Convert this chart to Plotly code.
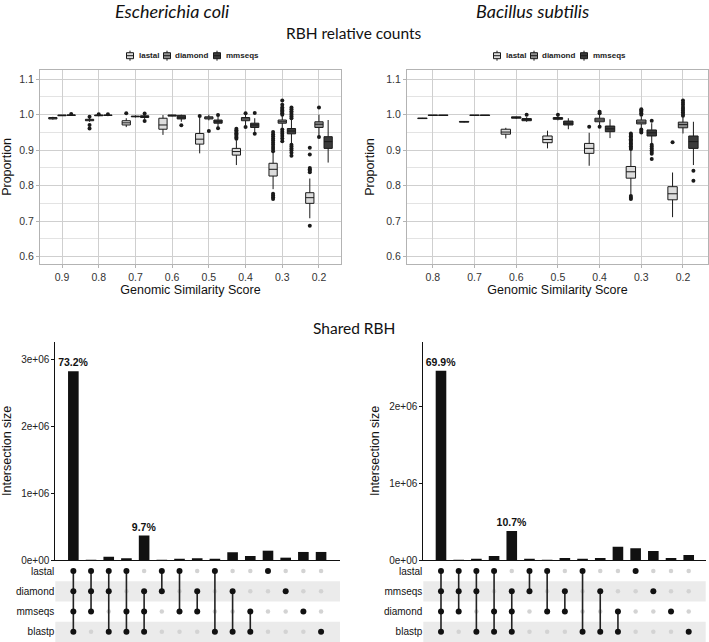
import plotly.graph_objects as go

W, H = 709, 642

# ---------------- data ----------------
tools = ["lastal", "diamond", "mmseqs"]
tool_colors = ["#dcdcdc", "#8f8f8f", "#3b3b3b"]

ecoli_scores = ["0.9", "0.8", "0.7", "0.6", "0.5", "0.4", "0.3", "0.2"]
bsub_scores = ["0.8", "0.7", "0.6", "0.5", "0.4", "0.3", "0.2"]

# box stats per score: [lower whisker, q1, median, q3, upper whisker]
ecoli_lastal_stats = [
    [0.986, 0.988, 0.990, 0.992, 0.994], [0.980, 0.983, 0.985, 0.987, 0.991],
    [0.965, 0.971, 0.977, 0.983, 0.990], [0.943, 0.959, 0.971, 0.990, 0.999],
    [0.891, 0.917, 0.931, 0.947, 0.993], [0.858, 0.886, 0.896, 0.905, 0.928],
    [0.790, 0.827, 0.846, 0.863, 0.892], [0.708, 0.750, 0.766, 0.780, 0.820]]
ecoli_lastal_out = [
    [], [0.994, 0.971, 0.961], [1.004], [], [0.996],
    [0.932, 0.936, 0.940, 0.944, 0.948, 0.952, 0.956, 0.960],
    [0.897, 0.903, 0.909, 0.915, 0.921, 0.927, 0.933, 0.939, 0.945, 0.951,
     0.777, 0.772, 0.767, 0.762],
    [0.907, 0.888, 0.850, 0.846, 0.842, 0.838, 0.687]]

ecoli_diamond_stats = [
    [0.997, 0.997, 0.998, 0.999, 0.999], [0.996, 0.997, 0.998, 0.999, 0.999],
    [0.992, 0.994, 0.995, 0.996, 0.998], [0.995, 0.996, 0.998, 0.999, 1.000],
    [0.984, 0.988, 0.991, 0.994, 1.000], [0.970, 0.983, 0.988, 0.992, 1.000],
    [0.963, 0.976, 0.980, 0.985, 0.996], [0.940, 0.964, 0.973, 0.980, 1.000]]
ecoli_diamond_out = [
    [], [1.001], [], [], [0.954], [1.004, 0.965],
    [1.000, 1.004, 1.008, 1.012, 1.016, 1.020, 1.028, 1.040,
     0.958, 0.952, 0.946, 0.940, 0.933, 0.925],
    [1.020, 0.937]]

ecoli_mmseqs_stats = [
    [0.998, 0.998, 0.999, 0.999, 1.000], [0.997, 0.998, 0.998, 0.999, 1.000],
    [0.988, 0.992, 0.995, 0.997, 1.000], [0.980, 0.988, 0.993, 0.998, 1.000],
    [0.965, 0.976, 0.980, 0.985, 0.995], [0.950, 0.964, 0.971, 0.976, 0.990],
    [0.920, 0.946, 0.954, 0.961, 0.985], [0.865, 0.905, 0.924, 0.938, 0.985]]
ecoli_mmseqs_out = [
    [1.002], [1.001], [1.003, 0.982], [0.970], [0.999, 0.962], [1.005, 0.946],
    [0.990, 0.995, 1.000, 1.005, 1.010, 1.015, 1.020,
     0.915, 0.910, 0.905, 0.900, 0.893, 0.884],
    []]

bsub_lastal_stats = [
    [0.989, 0.989, 0.990, 0.990, 0.991], [0.978, 0.979, 0.980, 0.981, 0.982],
    [0.933, 0.945, 0.951, 0.959, 0.963], [0.905, 0.921, 0.930, 0.940, 0.955],
    [0.856, 0.891, 0.905, 0.919, 0.949], [0.774, 0.821, 0.839, 0.854, 0.899],
    [0.711, 0.760, 0.777, 0.797, 0.837]]
bsub_lastal_out = [
    [], [], [], [], [0.966],
    [0.903, 0.907, 0.911, 0.915, 0.919, 0.923, 0.927, 0.931, 0.935, 0.939,
     0.943, 0.947, 0.771, 0.766, 0.762],
    [0.922]]

bsub_diamond_stats = [
    [0.997, 0.998, 0.998, 0.999, 0.999], [0.997, 0.998, 0.998, 0.999, 0.999],
    [0.988, 0.990, 0.992, 0.994, 0.995], [0.984, 0.987, 0.989, 0.992, 0.996],
    [0.970, 0.980, 0.985, 0.990, 1.000], [0.960, 0.974, 0.979, 0.985, 0.995],
    [0.947, 0.963, 0.972, 0.979, 0.993]]
bsub_diamond_out = [
    [], [], [], [1.000], [1.004, 1.008, 0.966],
    [1.000, 1.004, 1.008, 1.012, 1.015, 0.958, 0.954, 0.950],
    [0.997, 1.002, 1.007, 1.012, 1.017, 1.022, 1.028, 1.034, 1.040]]

bsub_mmseqs_stats = [
    [0.997, 0.998, 0.998, 0.999, 0.999], [0.997, 0.998, 0.998, 0.999, 0.999],
    [0.980, 0.983, 0.986, 0.989, 0.993], [0.959, 0.971, 0.976, 0.982, 0.990],
    [0.934, 0.952, 0.960, 0.968, 0.987], [0.919, 0.940, 0.949, 0.957, 0.976],
    [0.858, 0.905, 0.924, 0.940, 0.980]]
bsub_mmseqs_out = [
    [], [], [1.000], [], [],
    [0.983, 0.915, 0.910, 0.905, 0.900, 0.895, 0.890, 0.875],
    [0.842, 0.814]]

# UpSet data
ecoli_set_rows = ["lastal", "diamond", "mmseqs", "blastp"]
ecoli_intersections = [
    ["lastal", "diamond", "mmseqs", "blastp"], ["lastal", "diamond", "mmseqs"],
    ["lastal", "diamond", "blastp"], ["lastal", "mmseqs", "blastp"],
    ["diamond", "mmseqs", "blastp"], ["lastal", "diamond"], ["lastal", "mmseqs"],
    ["diamond", "mmseqs"], ["lastal", "blastp"], ["diamond", "blastp"],
    ["mmseqs", "blastp"], ["lastal"], ["diamond"], ["mmseqs"], ["blastp"]]
ecoli_sizes = [2820000, 2000, 49000, 25000, 365000, 1000, 15000, 25000, 20000,
               115000, 60000, 139000, 35000, 120000, 120000]
ecoli_pct_labels = ["73.2%", "", "", "", "9.7%", "", "", "", "", "", "", "", "", "", ""]

bsub_set_rows = ["lastal", "mmseqs", "diamond", "blastp"]
bsub_intersections = [
    ["lastal", "mmseqs", "diamond", "blastp"], ["lastal", "mmseqs", "diamond"],
    ["lastal", "mmseqs", "blastp"], ["lastal", "diamond", "blastp"],
    ["mmseqs", "diamond", "blastp"], ["lastal", "mmseqs"], ["lastal", "diamond"],
    ["mmseqs", "diamond"], ["lastal", "blastp"], ["mmseqs", "blastp"],
    ["diamond", "blastp"], ["lastal"], ["mmseqs"], ["diamond"], ["blastp"]]
bsub_sizes = [2470000, 2000, 8000, 52000, 379000, 17000, 2000, 26000, 17000,
              26000, 174000, 152000, 118000, 26000, 65000]
bsub_pct_labels = ["69.9%", "", "", "", "10.7%", "", "", "", "", "", "", "", "", "", ""]

species = ["Escherichia coli", "Bacillus subtilis"]

# ---------------- helpers ----------------
def fx(px):
    return px / W

def fy(py):
    return 1 - py / H

SANS = "Liberation Sans"
TITLE_FONT = "Lato"

fig = go.Figure()
annotations = []
shapes = []

# ---------------- top: box plots ----------------
box_panels = [
    dict(ax="x", ay="y", scores=ecoli_scores,
         stats=[ecoli_lastal_stats, ecoli_diamond_stats, ecoli_mmseqs_stats],
         outs=[ecoli_lastal_out, ecoli_diamond_out, ecoli_mmseqs_out],
         dom=[40, 341], rng=[-0.6, 7.6]),
    dict(ax="x2", ay="y2", scores=bsub_scores,
         stats=[bsub_lastal_stats, bsub_diamond_stats, bsub_mmseqs_stats],
         outs=[bsub_lastal_out, bsub_diamond_out, bsub_mmseqs_out],
         dom=[407, 708], rng=[-0.62, 6.6]),
]
dodge = 0.25
for p in box_panels:
    n = len(p["scores"])
    for k, tool in enumerate(tools):
        off = (k - 1) * dodge
        st = p["stats"][k]
        xs = [i + off for i in range(n)]
        fig.add_trace(go.Box(
            x=xs,
            lowerfence=[s[0] for s in st], q1=[s[1] for s in st],
            median=[s[2] for s in st], q3=[s[3] for s in st],
            upperfence=[s[4] for s in st],
            width=dodge * 0.9, whiskerwidth=0,
            fillcolor=tool_colors[k], line=dict(color="#1a1a1a", width=1),
            name=tool, showlegend=False, xaxis=p["ax"], yaxis=p["ay"],
            hoverinfo="skip"))
        ox, oy = [], []
        for i, vals in enumerate(p["outs"][k]):
            for v in vals:
                ox.append(i + off)
                oy.append(v)
        fig.add_trace(go.Scatter(
            x=ox, y=oy, mode="markers",
            marker=dict(size=4, color="#1a1a1a"),
            showlegend=False, xaxis=p["ax"], yaxis=p["ay"], hoverinfo="skip"))

axis_common_top_x = dict(
    showgrid=True, gridcolor="#cfcfcf", gridwidth=1, zeroline=False,
    showline=True, mirror=True, linecolor="#b3b3b3", linewidth=1,
    ticks="outside", ticklen=3, tickcolor="#b3b3b3",
    tickfont=dict(family=SANS, size=10.5, color="#333333"),
    title=dict(text="Genomic Similarity Score", standoff=2,
               font=dict(family=SANS, size=12.5, color="#111111")),
    automargin=False)
axis_common_top_y = dict(
    range=[0.579, 1.126], tickvals=[0.6, 0.7, 0.8, 0.9, 1.0, 1.1],
    ticktext=["0.6", "0.7", "0.8", "0.9", "1.0", "1.1"],
    showgrid=True, gridcolor="#cfcfcf", gridwidth=1, zeroline=False,
    minor=dict(tickvals=[0.65, 0.75, 0.85, 0.95, 1.05], showgrid=True,
               gridcolor="#e3e3e3", ticks=""),
    showline=True, mirror=True, linecolor="#b3b3b3", linewidth=1,
    ticks="outside", ticklen=3, tickcolor="#b3b3b3",
    tickfont=dict(family=SANS, size=10.5, color="#333333"),
    title=dict(text="Proportion", standoff=8,
               font=dict(family=SANS, size=12.5, color="#111111")),
    automargin=False)

layout_axes = {}
for idx, p in enumerate(box_panels):
    xname = "xaxis" if idx == 0 else "xaxis2"
    yname = "yaxis" if idx == 0 else "yaxis2"
    n = len(p["scores"])
    layout_axes[xname] = dict(axis_common_top_x, domain=[fx(p["dom"][0]), fx(p["dom"][1])],
                              range=p["rng"], tickvals=list(range(n)), ticktext=p["scores"],
                              anchor=p["ay"])
    layout_axes[yname] = dict(axis_common_top_y, domain=[fy(264), fy(70)], anchor=p["ax"])

# manual legends (ggplot-like keys)
for cx in [190.5, 557.5]:
    icon_dx = [-60.5, -23.5, 26.5]
    text_dx = [-53.5, -17.5, 33.5]
    ly = 55.7
    for k, tool in enumerate(tools):
        ix = cx + icon_dx[k]
        shapes.append(dict(type="line", xref="paper", yref="paper",
                           x0=fx(ix), x1=fx(ix), y0=fy(ly - 5), y1=fy(ly + 5),
                           line=dict(color="#1a1a1a", width=1)))
        shapes.append(dict(type="rect", xref="paper", yref="paper",
                           x0=fx(ix - 3.5), x1=fx(ix + 3.5), y0=fy(ly - 3), y1=fy(ly + 3),
                           fillcolor=tool_colors[k], line=dict(color="#1a1a1a", width=1)))
        shapes.append(dict(type="line", xref="paper", yref="paper",
                           x0=fx(ix - 3.5), x1=fx(ix + 3.5), y0=fy(ly), y1=fy(ly),
                           line=dict(color="#1a1a1a", width=1)))
        annotations.append(dict(text="<b>" + tool + "</b>", xref="paper", yref="paper",
                                x=fx(cx + text_dx[k]), y=fy(ly), xanchor="left",
                                yanchor="middle", showarrow=False,
                                font=dict(family=SANS, size=8, color="#222222")))

# ---------------- bottom: UpSet ----------------
upset_panels = [
    dict(bx="x3", by="y3", mx="x4", my="y4", rows=ecoli_set_rows,
         inter=ecoli_intersections, sizes=ecoli_sizes, labels=ecoli_pct_labels,
         dom=[55.3, 340], xr=[-1.02, 15.07], yr=[0, 3.26e6],
         tv=[0, 1e6, 2e6, 3e6], tt=["0e+00", "1e+06", "2e+06", "3e+06"]),
    dict(bx="x5", by="y5", mx="x6", my="y6", rows=bsub_set_rows,
         inter=bsub_intersections, sizes=bsub_sizes, labels=bsub_pct_labels,
         dom=[423.3, 705.7], xr=[-1.0, 14.96], yr=[0, 2.85e6],
         tv=[0, 1e6, 2e6], tt=["0e+00", "1e+06", "2e+06"]),
]
for p in upset_panels:
    ncol = len(p["sizes"])
    cols = list(range(ncol))
    fig.add_trace(go.Bar(
        x=cols, y=p["sizes"], width=0.6, marker=dict(color="#111111", line=dict(width=0)),
        text=["<b>" + t + "</b>" if t else "" for t in p["labels"]],
        textposition="outside", cliponaxis=False, constraintext="none",
        textfont=dict(family=SANS, size=10.5, color="#111111"),
        showlegend=False, xaxis=p["bx"], yaxis=p["by"], hoverinfo="skip"))
    # background dots
    gx, gy = [], []
    for c in cols:
        for r in range(len(p["rows"])):
            gx.append(c)
            gy.append(r)
    fig.add_trace(go.Scatter(x=gx, y=gy, mode="markers",
                             marker=dict(size=4.5, color="#d3d3d3"),
                             showlegend=False, xaxis=p["mx"], yaxis=p["my"], hoverinfo="skip"))
    # connecting lines
    lx, ly_ = [], []
    for c, members in enumerate(p["inter"]):
        rr = [p["rows"].index(m) for m in members]
        if len(rr) > 1:
            lx += [c, c, None]
            ly_ += [min(rr), max(rr), None]
    fig.add_trace(go.Scatter(x=lx, y=ly_, mode="lines",
                             line=dict(color="#222222", width=1.6),
                             showlegend=False, xaxis=p["mx"], yaxis=p["my"], hoverinfo="skip"))
    ax_, ay_ = [], []
    for c, members in enumerate(p["inter"]):
        for m in members:
            ax_.append(c)
            ay_.append(p["rows"].index(m))
    fig.add_trace(go.Scatter(x=ax_, y=ay_, mode="markers",
                             marker=dict(size=6, color="#111111"),
                             showlegend=False, xaxis=p["mx"], yaxis=p["my"], hoverinfo="skip"))
    # shaded rows
    for r in range(len(p["rows"])):
        if r % 2 == 1:
            shapes.append(dict(type="rect", xref=p["mx"] + " domain", yref=p["my"],
                               x0=0, x1=1, y0=r - 0.5, y1=r + 0.5,
                               fillcolor="#ebebeb", line=dict(width=0), layer="below"))

    xd = [fx(p["dom"][0]), fx(p["dom"][1])]
    bxn = "xaxis" + p["bx"][1:]
    byn = "yaxis" + p["by"][1:]
    mxn = "xaxis" + p["mx"][1:]
    myn = "yaxis" + p["my"][1:]
    layout_axes[bxn] = dict(domain=xd, range=p["xr"], anchor=p["by"], showgrid=False,
                            zeroline=False, showline=True, linecolor="#111111", linewidth=1,
                            showticklabels=False, ticks="", automargin=False)
    layout_axes[byn] = dict(domain=[fy(560), fy(341.7)], range=p["yr"], anchor=p["bx"],
                            showgrid=False, zeroline=False, showline=True,
                            linecolor="#111111", linewidth=1, ticks="outside", ticklen=3,
                            tickcolor="#111111", tickvals=p["tv"], ticktext=p["tt"],
                            tickfont=dict(family=SANS, size=10, color="#222222"),
                            title=dict(text="Intersection size", standoff=6,
                                       font=dict(family=SANS, size=12.5, color="#111111")),
                            automargin=False)
    layout_axes[mxn] = dict(domain=xd, range=p["xr"], anchor=p["my"], showgrid=False,
                            zeroline=False, showline=False, showticklabels=False,
                            ticks="", automargin=False)
    layout_axes[myn] = dict(domain=[0, fy(561)], range=[3.5, -0.5], anchor=p["mx"],
                            showgrid=False, zeroline=False, showline=False, ticks="",
                            tickvals=list(range(len(p["rows"]))), ticktext=p["rows"],
                            tickfont=dict(family=SANS, size=10, color="#111111"),
                            automargin=False)

# ---------------- titles ----------------
annotations.append(dict(text="<i>" + species[0] + "</i>", xref="paper", yref="paper",
                        x=fx(172), y=fy(11), xanchor="center", yanchor="middle",
                        showarrow=False, font=dict(family=TITLE_FONT, size=18, color="#111111")))
annotations.append(dict(text="<i>" + species[1] + "</i>", xref="paper", yref="paper",
                        x=fx(532), y=fy(11), xanchor="center", yanchor="middle",
                        showarrow=False, font=dict(family=TITLE_FONT, size=18, color="#111111")))
annotations.append(dict(text="RBH relative counts", xref="paper", yref="paper",
                        x=fx(354), y=fy(33), xanchor="center", yanchor="middle",
                        showarrow=False, font=dict(family=TITLE_FONT, size=15.5, color="#111111")))
annotations.append(dict(text="Shared RBH", xref="paper", yref="paper",
                        x=fx(354), y=fy(328), xanchor="center", yanchor="middle",
                        showarrow=False, font=dict(family=TITLE_FONT, size=15.5, color="#111111")))

fig.update_layout(
    width=W, height=H, margin=dict(l=0, r=0, t=0, b=0),
    paper_bgcolor="white", plot_bgcolor="white",
    font=dict(family=SANS),
    showlegend=False, annotations=annotations, shapes=shapes,
    **layout_axes)

fig.write_html("out.html", config={"displayModeBar": False},
               post_script="document.body.style.margin='0';document.body.style.overflow='hidden';")
